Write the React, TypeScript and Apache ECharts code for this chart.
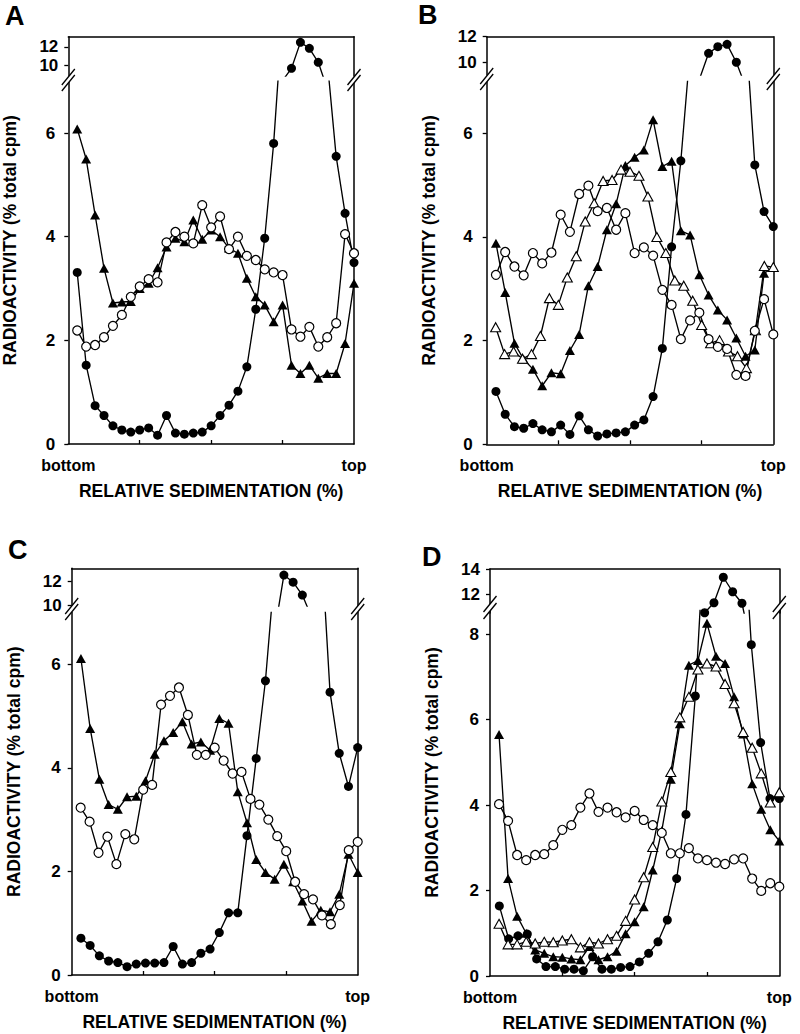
import React, { useEffect, useRef } from "react";
import * as echarts from "echarts";

// ---------- tick labels ----------
const xEndValues = [0, 100];
const xEndLabels = ["bottom", "top"];
const xTickValues = [25, 50, 75];
const lowerTicksABC = [0, 2, 4, 6];
const lowerTicksD = [0, 2, 4, 6, 8];
const upperTicksABC = [10, 12];
const upperTicksD = [12, 14];

// ---------- data (% total cpm per fraction, bottom -> top) ----------
// Panel A
const aFilledCircle = [3.31, 1.52, 0.74, 0.55, 0.35, 0.27, 0.23, 0.27, 0.31, 0.17, 0.55, 0.21, 0.19, 0.21, 0.23, 0.35, 0.55, 0.75, 1.02, 1.49, 2.6, 3.97, 5.8, 8.3, 9.64, 12.48, 11.83, 10.3, 7.4, 5.55, 4.45, 3.5];
const aFilledTriangle = [6.08, 5.5, 4.42, 3.39, 2.72, 2.74, 2.75, 3.0, 3.1, 3.4, 3.8, 3.97, 3.9, 4.32, 3.95, 4.13, 4.0, 3.78, 3.68, 3.2, 2.84, 2.68, 2.36, 2.68, 1.52, 1.36, 1.52, 1.27, 1.36, 1.36, 1.94, 3.1];
const aOpenCircle = [2.19, 1.88, 1.91, 2.06, 2.28, 2.49, 2.84, 3.04, 3.18, 3.12, 3.89, 4.09, 4.0, 3.87, 4.61, 4.18, 4.39, 3.76, 4.0, 3.63, 3.55, 3.37, 3.31, 3.26, 2.21, 2.07, 2.26, 1.88, 2.06, 2.33, 4.05, 3.68];

// Panel B
const bFilledCircle = [1.02, 0.58, 0.34, 0.31, 0.4, 0.28, 0.24, 0.37, 0.19, 0.55, 0.28, 0.16, 0.2, 0.22, 0.24, 0.37, 0.47, 0.92, 1.85, 3.81, 5.47, 7.6, 8.65, 10.7, 11.22, 11.4, 10.0, 8.1, 5.39, 4.49, 4.2];
const bFilledTriangle = [3.88, 2.93, 1.95, 1.64, 1.45, 1.13, 1.38, 1.36, 1.81, 2.12, 3.06, 3.43, 4.14, 4.64, 5.38, 5.54, 5.68, 6.26, 5.36, 5.46, 4.12, 4.04, 3.27, 2.88, 2.59, 2.4, 2.05, 1.7, 1.82, 3.3, 3.41];
const bOpenTriangle = [2.26, 1.74, 1.79, 1.65, 1.74, 2.09, 2.82, 2.69, 3.22, 3.63, 4.3, 4.65, 5.08, 5.1, 5.3, 5.26, 5.18, 4.78, 4.0, 3.69, 3.16, 3.06, 2.77, 2.3, 1.95, 2.01, 1.79, 1.7, 1.47, 2.2, 3.44, 3.42];
const bOpenCircle = [3.27, 3.71, 3.43, 3.26, 3.69, 3.49, 3.7, 4.43, 4.1, 4.83, 4.99, 4.5, 4.56, 4.14, 4.46, 3.69, 3.8, 3.64, 2.98, 2.69, 2.03, 2.39, 2.54, 2.03, 1.88, 1.84, 1.34, 1.32, 2.19, 2.8, 2.12];

// Panel C
const cFilledCircle = [0.71, 0.57, 0.37, 0.27, 0.24, 0.16, 0.21, 0.23, 0.23, 0.24, 0.55, 0.21, 0.24, 0.42, 0.5, 0.82, 1.2, 1.2, 2.69, 4.18, 5.68, 7.8, 12.5, 11.9, 10.83, 9.0, 8.5, 5.46, 4.28, 3.64, 4.39];
const cFilledTriangle = [6.11, 4.76, 3.78, 3.29, 3.2, 3.44, 3.45, 3.75, 4.26, 4.52, 4.68, 4.89, 4.46, 4.5, 4.34, 4.95, 4.86, 3.54, 2.94, 2.23, 1.98, 1.85, 2.14, 1.8, 1.43, 1.04, 1.25, 1.22, 1.56, 2.33, 1.98];
const cOpenCircle = [3.23, 2.96, 2.36, 2.67, 2.14, 2.72, 2.62, 3.58, 3.67, 5.22, 5.39, 5.55, 5.02, 4.25, 4.25, 4.39, 4.14, 3.89, 3.92, 3.4, 3.29, 3.0, 2.68, 2.39, 1.8, 1.56, 1.46, 1.15, 0.98, 1.35, 2.41, 2.57];

// Panel D
const dFilledCircle = [1.64, 0.87, 0.94, 0.98, 0.4, 0.22, 0.22, 0.16, 0.16, 0.12, 0.45, 0.16, 0.16, 0.2, 0.22, 0.33, 0.53, 0.8, 1.31, 2.28, 3.78, 6.55, 10.5, 11.3, 13.34, 12.18, 11.26, 7.75, 5.46, 4.15, 4.15];
const dFilledTriangle = [5.65, 2.28, 1.4, 1.0, 0.61, 0.53, 0.45, 0.44, 0.4, 0.38, 0.69, 0.38, 0.45, 0.58, 0.99, 1.27, 1.62, 2.48, 3.4, 4.6, 5.9, 7.27, 7.38, 8.25, 7.48, 7.31, 6.53, 5.66, 4.5, 3.9, 3.42, 3.16];
const dOpenTriangle = [1.22, 0.74, 0.74, 0.8, 0.76, 0.8, 0.79, 0.83, 0.86, 0.67, 0.79, 0.76, 0.86, 0.94, 1.29, 1.79, 2.31, 3.02, 4.08, 4.77, 6.05, 6.53, 7.17, 7.31, 7.24, 6.83, 6.38, 5.71, 5.34, 4.74, 4.06, 4.3];
const dOpenCircle = [4.02, 3.63, 2.83, 2.71, 2.83, 2.85, 3.06, 3.42, 3.53, 3.94, 4.27, 3.84, 3.94, 3.83, 3.71, 3.86, 3.65, 3.53, 3.35, 2.87, 2.87, 2.99, 2.75, 2.71, 2.65, 2.62, 2.73, 2.75, 2.28, 1.99, 2.17, 2.09];

type Kind = "filledCircle" | "openCircle" | "filledTriangle" | "openTriangle";
type S = { data: number[]; kind: Kind; upper?: boolean };
type Panel = {
  letter: string;
  letterX: number;
  letterY: number;
  left: number;
  width: number;
  labelMargin: number;
  upperTop: number;
  upperBottom: number;
  upperMin: number;
  upperMax: number;
  upperTicks: number[];
  lowerTop: number;
  lowerBottom: number;
  lowerMax: number;
  lowerTicks: number[];
  breaks: [number, number];
  series: S[];
};

const panels: Panel[] = [
  {
    letter: "A", letterX: 5, letterY: 16,
    left: 68.3, width: 285.7, labelMargin: 13,
    upperTop: 36.7, upperBottom: 76, upperMin: 8.8, upperMax: 13.1, upperTicks: upperTicksABC,
    lowerTop: 81.2, lowerBottom: 444, lowerMax: 7, lowerTicks: lowerTicksABC,
    breaks: [77, 83],
    series: [
      { data: aFilledCircle, kind: "filledCircle", upper: true },
      { data: aFilledTriangle, kind: "filledTriangle" },
      { data: aOpenCircle, kind: "openCircle" },
    ],
  },
  {
    letter: "B", letterX: 418, letterY: 15,
    left: 486.7, width: 286.6, labelMargin: 14,
    upperTop: 36.7, upperBottom: 75, upperMin: 9.0, upperMax: 12, upperTicks: upperTicksABC,
    lowerTop: 81.5, lowerBottom: 444.3, lowerMax: 7, lowerTicks: lowerTicksABC,
    breaks: [76, 82],
    series: [
      { data: bFilledCircle, kind: "filledCircle", upper: true },
      { data: bFilledTriangle, kind: "filledTriangle" },
      { data: bOpenTriangle, kind: "openTriangle" },
      { data: bOpenCircle, kind: "openCircle" },
    ],
  },
  {
    letter: "C", letterX: 8, letterY: 550,
    left: 71.7, width: 286, labelMargin: 11,
    upperTop: 568.3, upperBottom: 606, upperMin: 9.92, upperMax: 13.06, upperTicks: upperTicksABC,
    lowerTop: 612.4, lowerBottom: 975, lowerMax: 7, lowerTicks: lowerTicksABC,
    breaks: [606, 612],
    series: [
      { data: cFilledCircle, kind: "filledCircle", upper: true },
      { data: cFilledTriangle, kind: "filledTriangle" },
      { data: cOpenCircle, kind: "openCircle" },
    ],
  },
  {
    letter: "D", letterX: 422, letterY: 557,
    left: 490, width: 289.3, labelMargin: 11,
    upperTop: 569, upperBottom: 613, upperMin: 10.48, upperMax: 14, upperTicks: upperTicksD,
    lowerTop: 610.5, lowerBottom: 976, lowerMax: 8.55, lowerTicks: lowerTicksD,
    breaks: [604, 611],
    series: [
      { data: dFilledCircle, kind: "filledCircle", upper: true },
      { data: dFilledTriangle, kind: "filledTriangle" },
      { data: dOpenTriangle, kind: "openTriangle" },
      { data: dOpenCircle, kind: "openCircle" },
    ],
  },
];

const FONT = '"Liberation Sans", Arial, Helvetica, sans-serif';
const BLACK = "#000";

function symbolStyle(kind: Kind) {
  switch (kind) {
    case "filledCircle":
      return { symbol: "circle", symbolSize: 9, itemStyle: { color: BLACK, borderWidth: 0 } };
    case "openCircle":
      return { symbol: "circle", symbolSize: 9, itemStyle: { color: "#fff", borderColor: BLACK, borderWidth: 1.2 } };
    case "filledTriangle":
      return { symbol: "triangle", symbolSize: [10, 9], itemStyle: { color: BLACK, borderWidth: 0 } };
    default:
      return { symbol: "triangle", symbolSize: [10, 9], itemStyle: { color: "#fff", borderColor: BLACK, borderWidth: 1.1 } };
  }
}

const toPoints = (vals: number[]) => vals.map((v, j) => [((j + 1) * 100) / vals.length, v]);

function buildOption() {
  const grids: any[] = [];
  const xAxes: any[] = [];
  const yAxes: any[] = [];
  const series: any[] = [];
  const graphics: any[] = [];
  const axisLineStyle = { color: BLACK, width: 1.5 };
  const labelFont = { color: BLACK, fontFamily: FONT, fontWeight: "bold" };

  panels.forEach((p) => {
    const gLower = grids.length;
    grids.push({ left: p.left, top: p.lowerTop, width: p.width, height: p.lowerBottom - p.lowerTop });
    const gUpper = grids.length;
    grids.push({ left: p.left, top: p.upperTop, width: p.width, height: p.upperBottom - p.upperTop });

    const xLower = xAxes.length;
    xAxes.push({
      gridIndex: gLower, type: "value", min: 0, max: 100, position: "bottom",
      axisLine: { show: true, onZero: false, lineStyle: axisLineStyle },
      axisTick: { show: true, inside: true, length: 4, customValues: xTickValues, lineStyle: { color: BLACK, width: 1.3 } },
      axisLabel: {
        show: true, customValues: xEndValues, margin: 13, fontSize: 16, ...labelFont,
        formatter: (v: number) => {
          const k = xEndValues.indexOf(v);
          return k >= 0 ? xEndLabels[k] : "";
        },
      },
      splitLine: { show: false },
    });
    const xUpper = xAxes.length;
    xAxes.push({
      gridIndex: gUpper, type: "value", min: 0, max: 100, position: "top",
      axisLine: { show: true, onZero: false, lineStyle: axisLineStyle },
      axisTick: { show: false }, axisLabel: { show: false }, splitLine: { show: false },
    });

    const yLower = yAxes.length;
    yAxes.push({
      gridIndex: gLower, type: "value", min: 0, max: p.lowerMax, position: "left",
      axisLine: { show: true, onZero: false, lineStyle: axisLineStyle },
      axisTick: { show: true, inside: false, length: 4, customValues: p.lowerTicks, lineStyle: { color: BLACK, width: 1.3 } },
      axisLabel: { show: true, customValues: p.lowerTicks, margin: p.labelMargin, fontSize: 17, ...labelFont },
      splitLine: { show: false },
    });
    yAxes.push({
      gridIndex: gLower, type: "value", min: 0, max: p.lowerMax, position: "right",
      axisLine: { show: true, onZero: false, lineStyle: axisLineStyle },
      axisTick: { show: false }, axisLabel: { show: false }, splitLine: { show: false },
    });
    const yUpper = yAxes.length;
    yAxes.push({
      gridIndex: gUpper, type: "value", min: p.upperMin, max: p.upperMax, position: "left",
      axisLine: { show: true, onZero: false, lineStyle: axisLineStyle },
      axisTick: { show: true, inside: false, length: 4, customValues: p.upperTicks, lineStyle: { color: BLACK, width: 1.3 } },
      axisLabel: { show: true, customValues: p.upperTicks, margin: 10, fontSize: 17, ...labelFont },
      splitLine: { show: false },
    });
    yAxes.push({
      gridIndex: gUpper, type: "value", min: p.upperMin, max: p.upperMax, position: "right",
      axisLine: { show: true, onZero: false, lineStyle: axisLineStyle },
      axisTick: { show: false }, axisLabel: { show: false }, splitLine: { show: false },
    });

    p.series.forEach((s) => {
      const base = {
        type: "line",
        data: toPoints(s.data),
        clip: true,
        silent: true,
        lineStyle: { color: BLACK, width: 1.35 },
        emphasis: { disabled: true },
        ...symbolStyle(s.kind),
      };
      series.push({ ...base, xAxisIndex: xLower, yAxisIndex: yLower });
      if (s.upper) series.push({ ...base, xAxisIndex: xUpper, yAxisIndex: yUpper });
    });

    // axis breaks "//"
    [p.left, p.left + p.width].forEach((ax) => {
      const [b1, b2] = p.breaks;
      const dx = 6.5;
      const dy = 8;
      graphics.push({
        type: "polygon", z: 100, silent: true,
        shape: { points: [[ax - dx, b1 + dy], [ax + dx, b1 - dy], [ax + dx, b2 - dy], [ax - dx, b2 + dy]] },
        style: { fill: "#fff" },
      });
      [b1, b2].forEach((b) => {
        graphics.push({
          type: "line", z: 101, silent: true,
          shape: { x1: ax - dx, y1: b + dy, x2: ax + dx, y2: b - dy },
          style: { stroke: BLACK, lineWidth: 1.3 },
        });
      });
    });

    // panel letter
    graphics.push({
      type: "text", z: 102, silent: true, x: p.letterX, y: p.letterY,
      style: {
        text: p.letter, fill: BLACK, font: `bold 27px ${FONT}`,
        textAlign: "left", align: "left", textVerticalAlign: "middle", verticalAlign: "middle",
      },
    });
    // y title
    graphics.push({
      type: "text", z: 102, silent: true,
      x: p.left - 58, y: (p.upperTop + p.lowerBottom) / 2, rotation: Math.PI / 2,
      style: {
        text: "RADIOACTIVITY (% total cpm)", fill: BLACK, font: `bold 17.5px ${FONT}`,
        textAlign: "center", align: "center", textVerticalAlign: "middle", verticalAlign: "middle",
      },
    });
    // x title
    graphics.push({
      type: "text", z: 102, silent: true,
      x: p.left + p.width / 2, y: p.lowerBottom + 47,
      style: {
        text: "RELATIVE SEDIMENTATION (%)", fill: BLACK, font: `bold 17.5px ${FONT}`,
        textAlign: "center", align: "center", textVerticalAlign: "middle", verticalAlign: "middle",
      },
    });
  });

  return {
    animation: false,
    backgroundColor: "#fff",
    grid: grids,
    xAxis: xAxes,
    yAxis: yAxes,
    series,
    graphic: graphics,
  };
}

export default function App() {
  const ref = useRef<HTMLDivElement>(null);
  useEffect(() => {
    if (!ref.current) return;
    const chart = echarts.init(ref.current, undefined, { renderer: "svg" });
    chart.setOption(buildOption() as any);
    return () => chart.dispose();
  }, []);
  return (
    <div
      ref={ref}
      style={{ position: "absolute", left: 0, top: 0, width: 800, height: 1034, background: "#fff" }}
    />
  );
}
